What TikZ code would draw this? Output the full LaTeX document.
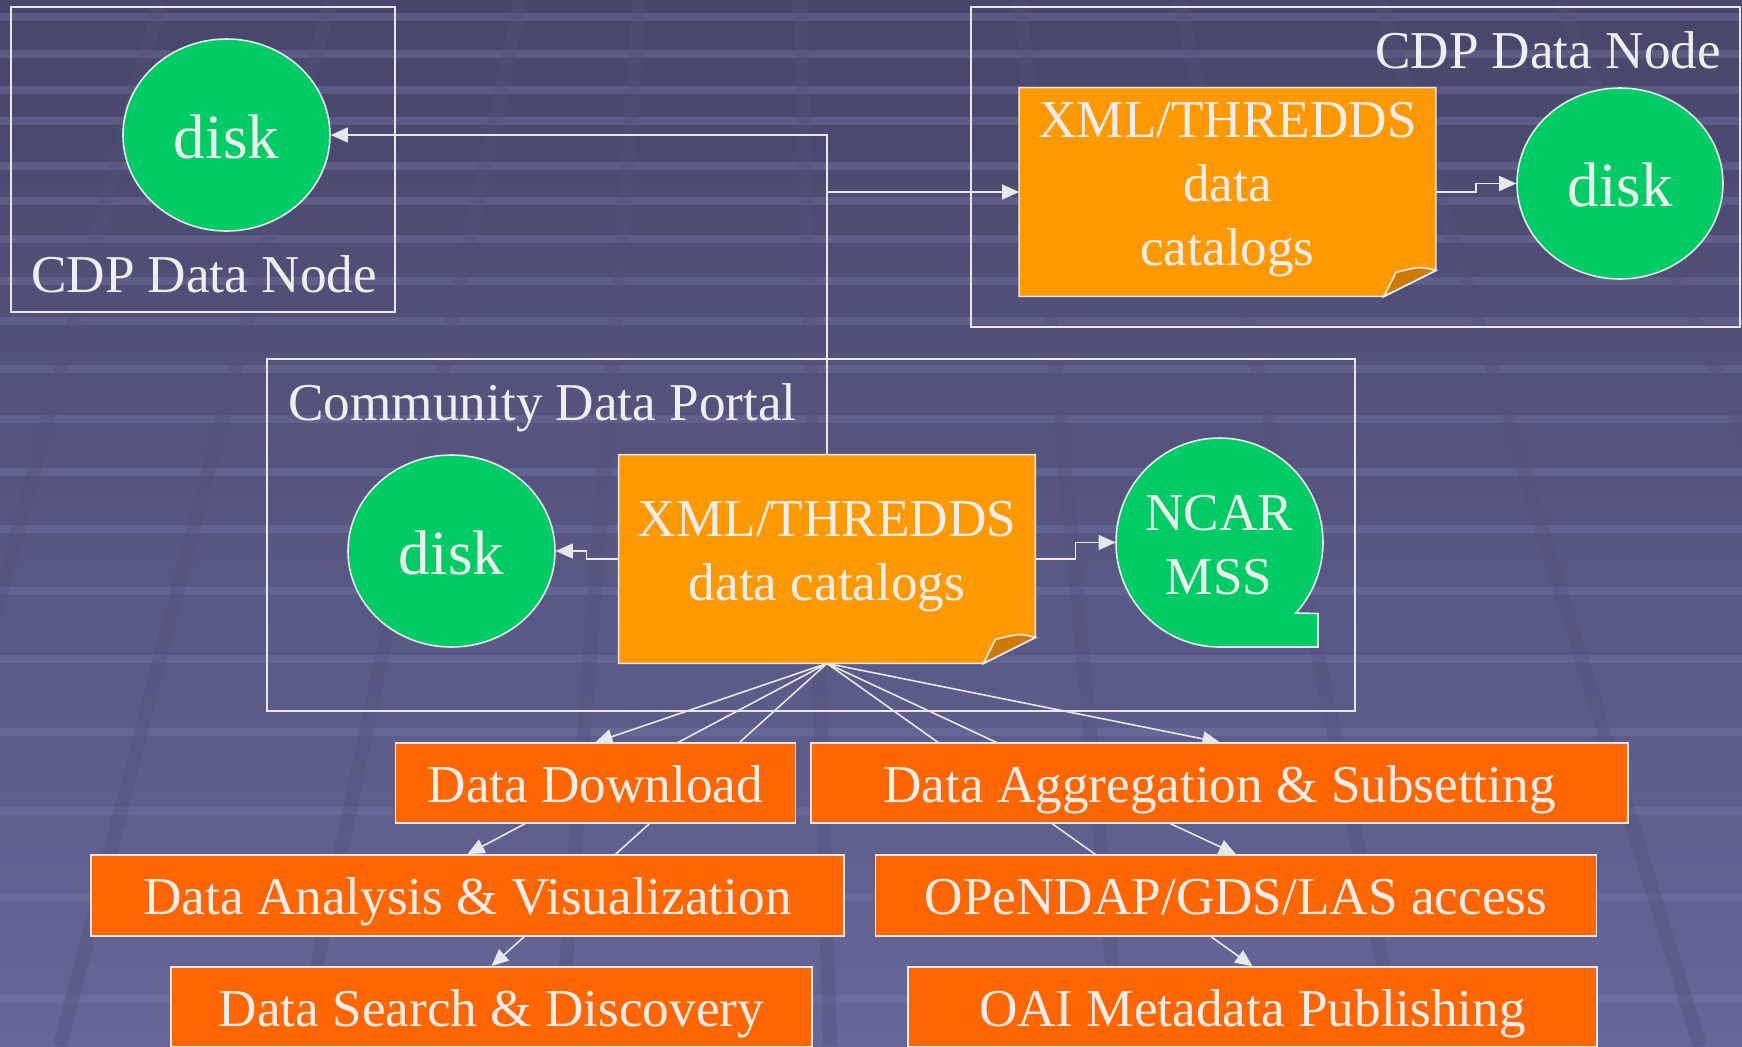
\documentclass[tikz,border=0pt]{standalone}
\usepackage{fontspec}
\setmainfont{Liberation Serif}
\usetikzlibrary{arrows.meta,shapes.geometric}
\definecolor{bgtop}{RGB}{71,71,107}
\definecolor{bgbot}{RGB}{102,102,152}
\definecolor{stripe}{RGB}{118,118,168}
\definecolor{bandcol}{RGB}{82,82,122}
\definecolor{diskgreen}{RGB}{0,204,102}
\definecolor{docorange}{RGB}{255,153,0}
\definecolor{folddark}{RGB}{204,122,0}
\definecolor{boxorange}{RGB}{255,102,0}
\definecolor{txt}{RGB}{238,238,238}
\definecolor{edgecol}{RGB}{232,232,236}
\pgfdeclarelayer{bglayer}
\pgfdeclarelayer{linelayer}
\pgfsetlayers{bglayer,linelayer,main}
\begin{document}
\begin{tikzpicture}[x=0.5pt,y=0.5pt,
  mainfont/.style={font=\fontsize{26.6pt}{32pt}\selectfont},
  grp/.style={draw=edgecol, line width=1pt, rectangle, inner sep=0pt},
  grplabel/.style={text=txt, mainfont, inner sep=0pt},
  disknode/.style={ellipse, draw=edgecol, line width=0.8pt, fill=diskgreen, inner sep=0pt, text=txt,
     font=\fontsize{31.5pt}{38pt}\selectfont, text height=23pt, text depth=0pt},
  docnode/.style={rectangle, inner sep=0pt, minimum width=208pt, minimum height=104pt},
  docshape/.style={fill=docorange, draw=edgecol, line width=0.8pt},
  foldshape/.style={fill=folddark, draw=edgecol, line width=0.8pt},
  doctext/.style={text=txt, mainfont, inner sep=0pt, anchor=base},
  svc/.style={rectangle, draw=edgecol, line width=0.8pt, fill=boxorange, inner sep=0pt, text=txt,
     mainfont, text height=19pt, text depth=0pt},
  conn/.style={draw=edgecol, line width=0.8pt, -{Triangle[length=8.5pt,width=7.5pt]}}
]
\useasboundingbox (0,0) rectangle (1742,-1046);

% ---------- background ----------
\begin{pgfonlayer}{bglayer}
\begin{scope}
\clip (0,0) rectangle (1742,-1046);
\shade[top color=bgtop, bottom color=bgbot] (0,0) rectangle (1742,-1046);
\foreach \yy in {13,50,86,117,162,197,235,277,317,365,415,468,525,587,655,728,807,893,995}
  \fill[stripe, opacity=0.4] (0,-\yy) rectangle (1742,-\yy-8);
\foreach \xt/\xb in {160/-120, 330/60, 520/300, 640/560, 800/830, 1020/1120, 1180/1400, 1380/1700, 1560/2000}
  \draw[bandcol, opacity=0.4, line width=7pt] (\xt,0) -- (\xb,-1046);
\end{scope}
\end{pgfonlayer}

% ---------- group boxes ----------
\node[grp, minimum width=192pt, minimum height=152.5pt] (leftnode) at (203,-159.5) {};
\node[grp, minimum width=384.5pt, minimum height=160pt] (rightnode) at (1355.5,-167) {};
\node[grp, minimum width=544pt, minimum height=176pt] (portal) at (811,-535) {};
\node[grplabel, anchor=base] (leftlabel) at (204,-292) {CDP Data Node};
\node[grplabel, anchor=base] (rightlabel) at (1548,-68) {CDP Data Node};
\node[grplabel, anchor=base west] (portallabel) at (288,-420) {Community Data Portal};

% ---------- disks ----------
\node[disknode, minimum width=103.5pt, minimum height=96pt] (disk1) at (226.5,-135) {disk};
\node[disknode, minimum width=103pt, minimum height=95.5pt] (rdisk) at (1620,-183.5) {disk};
\node[disknode, minimum width=103.5pt, minimum height=96pt] (mdisk) at (451.5,-551) {disk};

% ---------- NCAR MSS (tape) ----------
\node[ellipse, inner sep=0pt, minimum width=103.5pt, minimum height=104.5pt] (ncar) at (1219.5,-542.5) {};
\filldraw[fill=diskgreen, draw=edgecol, line width=0.8pt]
  (1219.5,-647) arc[start angle=270, end angle=-42.4, x radius=51.75pt, y radius=52.25pt]
  -- (1318,-613.5) -- (1318,-647) -- cycle;
\node[doctext] (ncartext) at (1219,-530) {\begin{tabular}[t]{@{}c@{}}NCAR\\MSS\end{tabular}};

% ---------- catalog documents ----------
\node[docnode] (tdoc) at (1227.5,-192) {};
\filldraw[docshape] (tdoc.north west) -- (tdoc.north east) -- ([yshift=13pt]tdoc.south east)
  -- ([xshift=-26pt]tdoc.south east) -- (tdoc.south west) -- cycle;
\filldraw[foldshape] ([yshift=13pt]tdoc.south east)
  .. controls ([xshift=-8pt,yshift=15pt]tdoc.south east) .. ([xshift=-20pt,yshift=12pt]tdoc.south east)
  -- ([xshift=-26pt]tdoc.south east) -- cycle;
\node[doctext] (tdoctext) at (1227.5,-137) {\begin{tabular}[t]{@{}c@{}}XML/THREDDS\\data\\catalogs\end{tabular}};

\node[docnode] (cdoc) at (827,-559) {};
\filldraw[docshape] (cdoc.north west) -- (cdoc.north east) -- ([yshift=13pt]cdoc.south east)
  -- ([xshift=-26pt]cdoc.south east) -- (cdoc.south west) -- cycle;
\filldraw[foldshape] ([yshift=13pt]cdoc.south east)
  .. controls ([xshift=-8pt,yshift=15pt]cdoc.south east) .. ([xshift=-20pt,yshift=12pt]cdoc.south east)
  -- ([xshift=-26pt]cdoc.south east) -- cycle;
\node[doctext] (cdoctext) at (827,-536) {\begin{tabular}[t]{@{}c@{}}XML/THREDDS\\data catalogs\end{tabular}};

% ---------- service boxes ----------
\node[svc, minimum width=200pt, minimum height=40pt] (dl) at (595.5,-783) {Data Download};
\node[svc, minimum width=408.5pt, minimum height=40pt] (agg) at (1219.5,-783) {Data Aggregation \& Subsetting};
\node[svc, minimum width=376.5pt, minimum height=40.5pt] (ana) at (467.5,-895.5) {Data Analysis \& Visualization};
\node[svc, minimum width=360.5pt, minimum height=40.5pt] (opd) at (1236,-895.5) {OPeNDAP/GDS/LAS access};
\node[svc, minimum width=320.5pt, minimum height=40pt] (srch) at (491.5,-1007) {Data Search \& Discovery};
\node[svc, minimum width=344.5pt, minimum height=40pt] (oai) at (1252.5,-1007) {OAI Metadata Publishing};

% ---------- connectors ----------
\begin{pgfonlayer}{linelayer}
\draw[conn] (cdoc.north) |- (disk1.east);
\draw[conn] (cdoc.north) |- (tdoc.west);
\draw[conn] (tdoc.east) -- ++(40,0) |- (rdisk.west);
\draw[conn] (cdoc.west) -- ++(-32,0) |- (mdisk.east);
\draw[conn] (cdoc.east) -- ++(40,0) |- (ncar.west);
\foreach \t in {dl,agg,ana,opd,srch,oai}
  \draw[conn] (cdoc.south) -- (\t.north);
\end{pgfonlayer}
\end{tikzpicture}
\end{document}
